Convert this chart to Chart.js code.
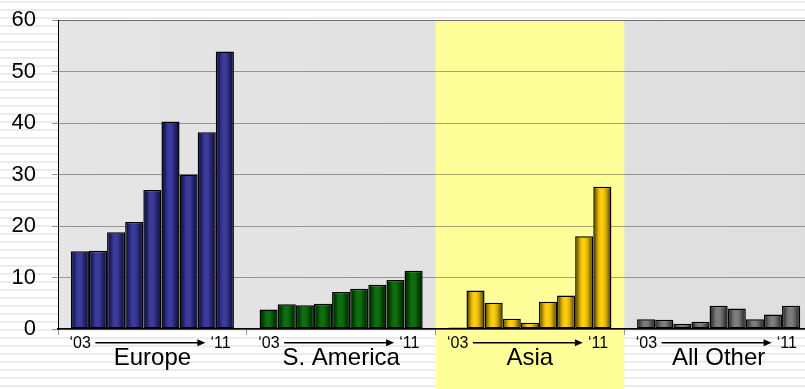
<!DOCTYPE html>
<html>
<head>
<meta charset="utf-8">
<script src="https://cdn.jsdelivr.net/npm/chart.js@4.4.1/dist/chart.umd.min.js"></script>
<style>
  html, body { margin: 0; padding: 0; overflow: hidden; }
  body {
    width: 805px;
    height: 389px;
    background: repeating-linear-gradient(to bottom, #fff 0px, #fff 1px, #ebebeb 1px, #ebebeb 3px, #fff 3px, #fff 8px);
  }
  #wrap { width: 813px; height: 389px; }
</style>
</head>
<body>
<div id="wrap"><canvas id="grafico" width="813" height="389"></canvas></div>
<script>
const regions = ["Europe", "S. America", "Asia", "All Other"];
const years = ["2003", "2004", "2005", "2006", "2007", "2008", "2009", "2010", "2011"];
const europe = [15.1, 15.2, 18.8, 20.8, 27.0, 40.3, 30.0, 38.2, 53.9];
const southAmerica = [3.8, 4.8, 4.6, 4.9, 7.2, 7.8, 8.6, 9.5, 11.3];
const asia = [0.3, 7.5, 5.1, 2.0, 1.2, 5.3, 6.5, 18.0, 27.6];
const allOther = [1.9, 1.8, 1.0, 1.4, 4.5, 4.0, 1.9, 2.8, 4.5];
const yearStart = "\u201803";
const yearEnd = "\u201811";
const regionColors = ["#2f2f96", "#006600", "#ffcc00", "#767676"];
const highlight = 2; // Asia

const FONT = "'Liberation Sans', Arial, sans-serif";

const series = [europe, southAmerica, asia, allOther];

// one dataset per year, one bar per region in each
const datasets = years.map((yr, i) => ({
  label: yr,
  data: series.map(s => s[i]),
  backgroundColor: regionColors,
  borderColor: "#000",
  borderWidth: 1.5,
  borderSkipped: false,
  barPercentage: 1,
  categoryPercentage: 0.864
}));

const background = {
  id: "background",
  beforeDraw(chart) {
    const { ctx, chartArea: a, scales: { x } } = chart;
    ctx.save();
    const g = ctx.createLinearGradient(a.left, 0, a.right, 0);
    g.addColorStop(0, "#e5e5e5");
    g.addColorStop(1, "#dedede");
    ctx.fillStyle = g;
    ctx.fillRect(a.left, a.top, a.right - a.left, a.bottom - a.top);

    const w = (a.right - a.left) / regions.length;
    const x0 = x.getPixelForValue(highlight) - w / 2;
    ctx.fillStyle = "#ffff99";
    ctx.fillRect(x0, a.top, w, chart.height - a.top);
    ctx.restore();
  }
};

const shading = {
  id: "shading",
  afterDatasetsDraw(chart) {
    const ctx = chart.ctx;
    const b = 1.5;
    ctx.save();
    chart.data.datasets.forEach((ds, i) => {
      chart.getDatasetMeta(i).data.forEach(bar => {
        const { x, y, base, width } = bar.getProps(["x", "y", "base", "width"], true);
        const l = x - width / 2 + b;
        const r = x + width / 2 - b;
        if (base - y <= 2 * b) return;
        const g = ctx.createLinearGradient(l, 0, r, 0);
        g.addColorStop(0, "rgba(0,0,0,0.6)");
        g.addColorStop(0.2, "rgba(0,0,0,0.18)");
        g.addColorStop(0.45, "rgba(255,255,255,0.05)");
        g.addColorStop(0.75, "rgba(0,0,0,0.18)");
        g.addColorStop(1, "rgba(0,0,0,0.6)");
        ctx.fillStyle = g;
        ctx.fillRect(l, y + b, r - l, base - y - 2 * b);
      });
    });
    ctx.restore();
  }
};

const yearArrows = {
  id: "yearArrows",
  afterDraw(chart) {
    const { ctx, scales: { x }, chartArea: a } = chart;
    const ty = a.bottom + 15;
    const ay = a.bottom + 13.7;
    ctx.save();
    ctx.font = "16px " + FONT;
    ctx.fillStyle = "#000";
    ctx.strokeStyle = "#000";
    ctx.textBaseline = "middle";
    regions.forEach((r, i) => {
      const c = x.getPixelForValue(i);
      ctx.textAlign = "right";
      ctx.fillText(yearStart, c - 61.5, ty);
      ctx.textAlign = "left";
      ctx.fillText(yearEnd, c + 58, ty);

      ctx.lineWidth = 1.5;
      ctx.beginPath();
      ctx.moveTo(c - 57, ay);
      ctx.lineTo(c + 47, ay);
      ctx.stroke();
      ctx.beginPath();
      ctx.moveTo(c + 53, ay);
      ctx.lineTo(c + 45, ay - 3.5);
      ctx.lineTo(c + 45, ay + 3.5);
      ctx.closePath();
      ctx.fill();
    });
    ctx.restore();
  }
};

new Chart(document.getElementById("grafico"), {
  type: "bar",
  data: { labels: regions, datasets },
  options: {
    responsive: false,
    animation: false,
    layout: { padding: { top: 20, left: 0, right: 0, bottom: 0 } },
    plugins: {
      legend: { display: false },
      tooltip: { enabled: false }
    },
    scales: {
      x: {
        grid: {
          drawOnChartArea: false,
          tickLength: 6,
          color: "#999",
          offset: true
        },
        border: { color: "#000", width: 1.5 },
        ticks: {
          font: { family: FONT, size: 24 },
          color: "#000",
          padding: 9,
          maxRotation: 0,
          autoSkip: false
        },
        afterFit(scale) {
          scale.height = 60;
          scale.paddingLeft = 0;
          scale.paddingRight = 0;
        }
      },
      y: {
        min: 0,
        max: 60,
        ticks: {
          stepSize: 10,
          font: { family: FONT, size: 22 },
          color: "#000",
          padding: 16
        },
        grid: {
          tickLength: 6,
          color: ctx => ctx.tick && ctx.tick.value === 60 ? "#6e6e6e" : "rgba(0,0,0,0.35)",
          tickColor: "#999"
        },
        border: { color: "#000", width: 1 },
        afterFit(scale) {
          scale.width = 58;
          scale.paddingTop = 0;
          scale.paddingBottom = 0;
        }
      }
    }
  },
  plugins: [background, shading, yearArrows]
});
</script>
</body>
</html>
